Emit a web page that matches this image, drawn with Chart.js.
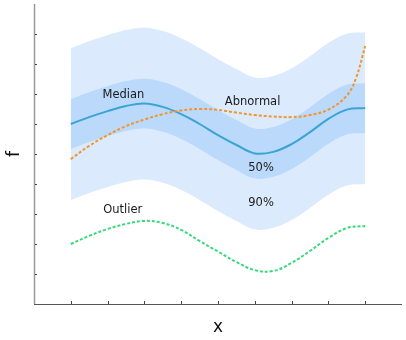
<!DOCTYPE html>
<html>
<head>
<meta charset="utf-8">
<script src="https://cdn.jsdelivr.net/npm/chart.js@4"></script>
<style>
  body { margin: 0; background: #fff; }
  #wrap { width: 406px; height: 340px; }
</style>
</head>
<body>
<div id="wrap"><canvas id="bandChart"></canvas></div>
<script>
// x positions sampled along the curves
const xs = [1, 1.5, 2, 2.5, 3, 3.5, 4, 4.5, 5, 5.5, 6, 6.5, 7, 7.5, 8, 8.5, 9];

const median    = [6.0, 6.23, 6.43, 6.6, 6.68, 6.57, 6.33, 6.0, 5.63, 5.3, 5.02, 5.07, 5.33, 5.73, 6.17, 6.48, 6.53];
const inner50Hi = [6.83, 7.06, 7.26, 7.43, 7.51, 7.4, 7.16, 6.83, 6.46, 6.13, 5.85, 5.9, 6.16, 6.56, 7.0, 7.31, 7.36];
const inner50Lo = [5.17, 5.4, 5.6, 5.77, 5.85, 5.74, 5.5, 5.17, 4.8, 4.47, 4.19, 4.24, 4.5, 4.9, 5.34, 5.65, 5.7];
const outer90Hi = [8.53, 8.76, 8.96, 9.13, 9.21, 9.1, 8.86, 8.53, 8.16, 7.83, 7.55, 7.6, 7.86, 8.26, 8.7, 9.01, 9.06];
const outer90Lo = [3.47, 3.7, 3.9, 4.07, 4.15, 4.04, 3.8, 3.47, 3.1, 2.77, 2.49, 2.54, 2.8, 3.2, 3.64, 3.95, 4.0];

const abnormalX = [1, 1.5, 2, 2.5, 3, 3.5, 4, 4.5, 5, 5.5, 6, 6.5, 7, 7.5, 8, 8.5, 8.75, 9];
const abnormal  = [4.83, 5.27, 5.63, 5.93, 6.15, 6.33, 6.45, 6.5, 6.47, 6.38, 6.3, 6.25, 6.23, 6.3, 6.48, 6.95, 7.53, 8.6];

const outlier = [2.0, 2.27, 2.5, 2.67, 2.77, 2.7, 2.47, 2.1, 1.75, 1.4, 1.13, 1.1, 1.37, 1.77, 2.2, 2.53, 2.6];

const tickVals = [1, 2, 3, 4, 5, 6, 7, 8, 9];

// text annotations, in data coordinates
const notes = [
  { text: 'Median',   x: 2.43, y: 6.97 },
  { text: 'Abnormal', x: 5.94, y: 6.73 },
  { text: '50%',      x: 6.17, y: 4.53 },
  { text: '90%',      x: 6.17, y: 3.37 },
  { text: 'Outlier',  x: 2.41, y: 3.13 }
];

function pts(xArr, yArr) {
  return xArr.map((x, i) => ({ x: x, y: yArr[i] }));
}

const axesPlugin = {
  id: 'axesAndNotes',
  afterDatasetsDraw(chart) {
    const ctx = chart.ctx;
    const xs_ = chart.scales.x;
    const ys_ = chart.scales.y;
    const left = xs_.getPixelForValue(0);
    const right = xs_.getPixelForValue(10);
    const top = ys_.getPixelForValue(10);
    const bottom = ys_.getPixelForValue(0);

    ctx.save();
    // y axis
    ctx.strokeStyle = '#9a9a9a';
    ctx.lineWidth = 1.5;
    ctx.beginPath();
    ctx.moveTo(left + 0.5, top);
    ctx.lineTo(left + 0.5, bottom);
    ctx.stroke();
    // x axis
    ctx.strokeStyle = '#555';
    ctx.lineWidth = 1;
    ctx.beginPath();
    ctx.moveTo(left, bottom + 0.5);
    ctx.lineTo(right, bottom + 0.5);
    ctx.stroke();

    // inner ticks
    ctx.strokeStyle = '#444';
    ctx.lineWidth = 1;
    tickVals.forEach(v => {
      const px = Math.round(xs_.getPixelForValue(v)) + 0.5;
      ctx.beginPath();
      ctx.moveTo(px, bottom);
      ctx.lineTo(px, bottom - 3);
      ctx.stroke();
      const py = Math.round(ys_.getPixelForValue(v)) + 0.5;
      ctx.beginPath();
      ctx.moveTo(left + 1, py);
      ctx.lineTo(left + 3, py);
      ctx.stroke();
    });

    // axis titles
    ctx.fillStyle = '#111';
    ctx.font = '17px "DejaVu Sans"';
    ctx.textAlign = 'center';
    ctx.textBaseline = 'middle';
    ctx.fillText('x', (left + right) / 2, 328);
    ctx.save();
    ctx.translate(15, (top + bottom) / 2);
    ctx.rotate(-Math.PI / 2);
    ctx.fillText('f', 0, 0);
    ctx.restore();

    // annotations
    ctx.font = '11.5px "DejaVu Sans"';
    ctx.fillStyle = '#1a1a1a';
    notes.forEach(n => {
      ctx.fillText(n.text, xs_.getPixelForValue(n.x), ys_.getPixelForValue(n.y));
    });
    ctx.restore();
  }
};

const ctx = document.getElementById('bandChart').getContext('2d');
const chart = new Chart(ctx, {
  type: 'line',
  data: {
    datasets: [
      {
        label: 'Median',
        data: pts(xs, median),
        borderColor: '#3ba4d3',
        borderWidth: 2,
        fill: false,
        order: 1
      },
      {
        label: 'Abnormal',
        data: pts(abnormalX, abnormal),
        borderColor: '#f1962f',
        borderWidth: 2,
        borderDash: [3, 2],
        fill: false,
        order: 0
      },
      {
        label: 'Outlier',
        data: pts(xs, outlier),
        borderColor: '#35db78',
        borderWidth: 2,
        borderDash: [3, 2],
        fill: false,
        order: 0
      },
      {
        label: '50% hi',
        data: pts(xs, inner50Hi),
        borderWidth: 0,
        borderColor: 'rgba(0,0,0,0)',
        backgroundColor: '#bad9fb',
        fill: '+1',
        order: 3
      },
      {
        label: '50% lo',
        data: pts(xs, inner50Lo),
        borderWidth: 0,
        borderColor: 'rgba(0,0,0,0)',
        fill: false,
        order: 3
      },
      {
        label: '90% hi',
        data: pts(xs, outer90Hi),
        borderWidth: 0,
        borderColor: 'rgba(0,0,0,0)',
        backgroundColor: '#dbeafc',
        fill: '+1',
        order: 5
      },
      {
        label: '90% lo',
        data: pts(xs, outer90Lo),
        borderWidth: 0,
        borderColor: 'rgba(0,0,0,0)',
        fill: false,
        order: 5
      }
    ]
  },
  options: {
    responsive: true,
    maintainAspectRatio: false,
    animation: false,
    layout: { padding: { left: 34, right: 4, top: 4, bottom: 36 } },
    elements: {
      point: { radius: 0, hoverRadius: 0 },
      line: { tension: 0.4 }
    },
    plugins: {
      legend: { display: false },
      tooltip: { enabled: false }
    },
    scales: {
      x: { type: 'linear', min: 0, max: 10, display: false },
      y: { min: 0, max: 10, display: false }
    }
  },
  plugins: [axesPlugin]
});
</script>
</body>
</html>
